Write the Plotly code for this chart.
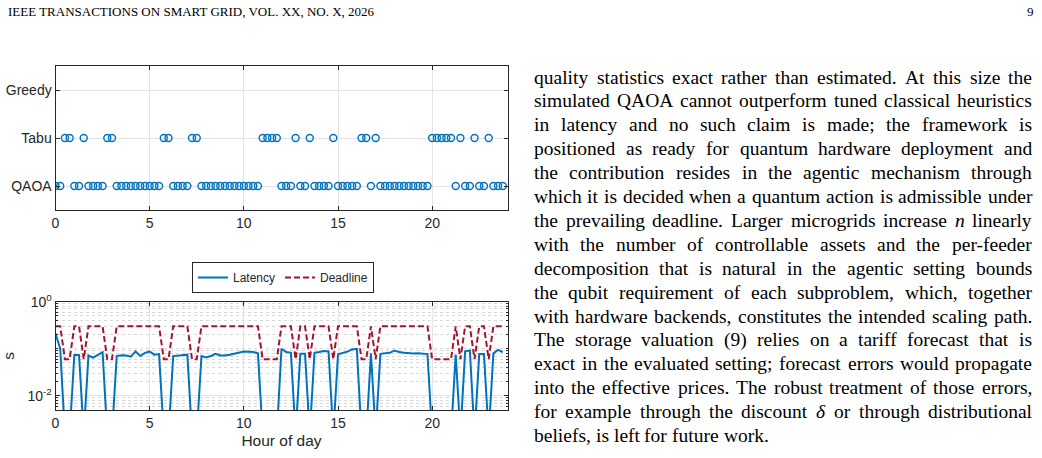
import plotly.graph_objects as go

W, H = 1042, 458

# ---------------- data ----------------
HOURS = [i * 0.25 for i in range(96)]

SOLVER_LEVELS = ["QAOA", "Tabu", "Greedy"]
SOLVER = (["QAOA"] * 2 + ["Tabu"] * 2 + ["QAOA"] * 2 + ["Tabu"] + ["QAOA"] * 4 + ["Tabu"] * 2
          + ["QAOA"] * 10 + ["Tabu"] * 2 + ["QAOA"] * 4 + ["Tabu"] * 2 + ["QAOA"] * 13
          + ["Tabu"] * 4 + ["QAOA"] * 3 + ["Tabu"] + ["QAOA"] * 2 + ["Tabu"] + ["QAOA"] * 4
          + ["Tabu"] + ["QAOA"] * 5 + ["Tabu"] * 2 + ["QAOA"] + ["Tabu"] + ["QAOA"] * 11
          + ["Tabu"] * 5 + ["QAOA"] + ["Tabu"] + ["QAOA"] * 2 + ["Tabu"] + ["QAOA"] * 2
          + ["Tabu"] + ["QAOA"] * 3)

LATENCY = [
    0.21, 0.10, 0.0015, 0.0015, 0.074, 0.074, 0.0015, 0.072,
    0.065, 0.075, 0.085, 0.0015, 0.0015, 0.070, 0.073, 0.072,
    0.068, 0.088, 0.070, 0.082, 0.087, 0.075, 0.077, 0.0015,
    0.0015, 0.070, 0.072, 0.074, 0.075, 0.0015, 0.0015, 0.070,
    0.065, 0.070, 0.078, 0.072, 0.072, 0.075, 0.078, 0.083,
    0.087, 0.086, 0.085, 0.080, 0.0015, 0.0015, 0.0015, 0.0015,
    0.100, 0.085, 0.082, 0.0015, 0.078, 0.078, 0.0015, 0.082,
    0.085, 0.090, 0.088, 0.0015, 0.076, 0.080, 0.087, 0.097,
    0.100, 0.0015, 0.0015, 0.080, 0.0015, 0.078, 0.080, 0.082,
    0.092, 0.085, 0.082, 0.080, 0.079, 0.080, 0.079, 0.077,
    0.0015, 0.0015, 0.0015, 0.0015, 0.0015, 0.075, 0.0015, 0.088,
    0.092, 0.0015, 0.077, 0.077, 0.0015, 0.080, 0.095, 0.085,
]

DEADLINE = [
    0.3, 0.3, 0.06, 0.06, 0.3, 0.3, 0.06, 0.3,
    0.3, 0.3, 0.3, 0.06, 0.06, 0.3, 0.3, 0.3,
    0.3, 0.3, 0.3, 0.3, 0.3, 0.3, 0.3, 0.06,
    0.06, 0.3, 0.3, 0.3, 0.3, 0.06, 0.06, 0.3,
    0.3, 0.3, 0.3, 0.3, 0.3, 0.3, 0.3, 0.3,
    0.3, 0.3, 0.3, 0.3, 0.06, 0.06, 0.06, 0.06,
    0.3, 0.3, 0.3, 0.06, 0.3, 0.3, 0.06, 0.3,
    0.3, 0.3, 0.3, 0.06, 0.3, 0.3, 0.3, 0.3,
    0.3, 0.06, 0.06, 0.3, 0.06, 0.3, 0.3, 0.3,
    0.3, 0.3, 0.3, 0.3, 0.3, 0.3, 0.3, 0.3,
    0.06, 0.06, 0.06, 0.06, 0.06, 0.3, 0.06, 0.3,
    0.3, 0.06, 0.3, 0.3, 0.06, 0.3, 0.3, 0.3,
]

X_TICKS = [0, 5, 10, 15, 20]
Y2_TICKS = [0.01, 1]
Y2_TICKTEXT = ["10<sup>-2</sup>", "10<sup>0</sup>"]
Y2_MINOR = [k * 10.0 ** e for e in (-3, -2, -1) for k in range(1, 10)
            if 0.005 < k * 10.0 ** e < 1 and abs(k * 10.0 ** e - 0.01) > 1e-9]

HEADER = "IEEE TRANSACTIONS ON SMART GRID, VOL. XX, NO. X, 2026"
PAGE_NO = "9"
BODY_LINES = [
    "quality statistics exact rather than estimated. At this size the",
    "simulated QAOA cannot outperform tuned classical heuristics",
    "in latency and no such claim is made; the framework is",
    "positioned as ready for quantum hardware deployment and",
    "the contribution resides in the agentic mechanism through",
    "which it is decided when a quantum action is admissible under",
    "the prevailing deadline. Larger microgrids increase *n* linearly",
    "with the number of controllable assets and the per-feeder",
    "decomposition that is natural in the agentic setting bounds",
    "the qubit requirement of each subproblem, which, together",
    "with hardware backends, constitutes the intended scaling path.",
    "The storage valuation (9) relies on a tariff forecast that is",
    "exact in the evaluated setting; forecast errors would propagate",
    "into the effective prices. The robust treatment of those errors,",
    "for example through the discount *δ* or through distributional",
    "beliefs, is left for future work.",
]

# ---------------- style ----------------
BLUE = "#0072BD"
RED = "#A2142F"
AX = "#262626"
GRID = "#e3e3e3"
SANS = "Liberation Sans, Arial, sans-serif"
SERIF = "Liberation Serif, Times New Roman, serif"

def px(x):
    return x / W

def py(y):
    return 1 - y / H

X_DOM = [px(55.5), px(507.5)]
Y_TOP = [py(210), py(66)]
Y_BOT = [py(410), py(301.7)]

fig = go.Figure()
level_pos = {name: i + 1 for i, name in enumerate(SOLVER_LEVELS)}
fig.add_trace(go.Scatter(
    x=HOURS, y=[level_pos[s] for s in SOLVER], mode="markers",
    marker=dict(symbol="circle-open", size=7, color=BLUE, line=dict(width=1.4, color=BLUE)),
    xaxis="x", yaxis="y", showlegend=False, hoverinfo="skip"))
fig.add_trace(go.Scatter(
    x=HOURS, y=LATENCY, mode="lines", name="Latency",
    line=dict(color=BLUE, width=2), xaxis="x2", yaxis="y2"))
fig.add_trace(go.Scatter(
    x=HOURS, y=DEADLINE, mode="lines", name="Deadline",
    line=dict(color=RED, width=2, dash="6px,3px"), xaxis="x2", yaxis="y2"))

axis_common = dict(
    showline=True, linecolor=AX, linewidth=1, mirror="ticks",
    ticks="inside", ticklen=4, tickcolor=AX, tickwidth=1,
    showgrid=True, gridcolor=GRID, gridwidth=1, zeroline=False, automargin=False,
    tickfont=dict(family=SANS, size=14, color=AX))

fig.update_layout(
    width=W, height=H, autosize=False,
    margin=dict(l=0, r=0, t=0, b=0, pad=0),
    paper_bgcolor="white", plot_bgcolor="white",
    xaxis=dict(domain=X_DOM, range=[0, 24], tickvals=X_TICKS, anchor="y", **axis_common),
    yaxis=dict(domain=Y_TOP, range=[0.5, 3.5], tickvals=[1, 2, 3], ticktext=SOLVER_LEVELS,
               anchor="x", **axis_common),
    xaxis2=dict(domain=X_DOM, range=[0, 24], tickvals=X_TICKS, anchor="y2",
                title=dict(text="Hour of day", font=dict(family=SANS, size=15.5, color=AX), standoff=5),
                **axis_common),
    yaxis2=dict(domain=Y_BOT, type="log", range=[-2.301, 0], tickvals=Y2_TICKS, ticktext=Y2_TICKTEXT,
                anchor="x2",
                title=dict(text="s", font=dict(family=SANS, size=15.5, color=AX), standoff=8),
                minor=dict(tickmode="array", tickvals=Y2_MINOR, ticks="inside", ticklen=2,
                           tickcolor=AX, showgrid=True, gridcolor="#d8d8d8", griddash="dot"),
                **axis_common),
    legend=dict(orientation="h", x=px(283), xanchor="center", y=py(262), yanchor="top",
                bordercolor=AX, borderwidth=1, bgcolor="white",
                font=dict(family=SANS, size=12, color=AX), itemwidth=30,
                tracegroupgap=0),
    showlegend=True,
)

# ---------------- page text (justified by Times metrics) ----------------
TW = {' ': 250, '.': 250, ',': 250, ';': 278, ':': 278, '-': 333, '(': 333, ')': 333, 'δ': 500}
for c, w in zip("abcdefghijklmnopqrstuvwxyz",
                [444, 500, 444, 500, 444, 333, 500, 500, 278, 278, 500, 278, 778, 500, 500, 500,
                 500, 333, 389, 278, 500, 500, 722, 500, 500, 444]):
    TW[c] = w
for c, w in zip("ABCDEFGHIJKLMNOPQRSTUVWXYZ",
                [722, 667, 667, 722, 611, 556, 722, 722, 333, 389, 722, 611, 889, 722, 722, 556,
                 722, 667, 556, 611, 722, 722, 944, 722, 722, 611]):
    TW[c] = w
for c in "0123456789":
    TW[c] = 500

def text_width(s, fs):
    return sum(TW.get(c, 500) for c in s.replace("*", "")) * fs / 1000.0

annotations = []
BODY_FS = 19.5
COL_L, COL_R = 533.0, 1031.0
LINE0, PITCH = 77.0, 23.9
for i, line in enumerate(BODY_LINES):
    words = line.split(" ")
    yc = LINE0 + PITCH * i
    widths = [text_width(w, BODY_FS) for w in words]
    if i < len(BODY_LINES) - 1 and len(words) > 1:
        gap = (COL_R - COL_L - sum(widths)) / (len(words) - 1)
    else:
        gap = 0.25 * BODY_FS
    x = COL_L
    for w, wd in zip(words, widths):
        txt = w
        if "*" in w:
            txt = "<i>" + w.replace("*", "") + "</i>"
        annotations.append(dict(
            x=px(x), y=py(yc), xref="paper", yref="paper", xanchor="left", yanchor="middle",
            text=txt, showarrow=False, borderpad=0,
            font=dict(family=SERIF, size=BODY_FS, color="black")))
        x += wd + gap

annotations.append(dict(x=px(7), y=py(12), xref="paper", yref="paper", xanchor="left", yanchor="middle",
                        text=HEADER, showarrow=False, borderpad=0,
                        font=dict(family=SERIF, size=13, color="black")))
annotations.append(dict(x=px(1035), y=py(12), xref="paper", yref="paper", xanchor="right", yanchor="middle",
                        text=PAGE_NO, showarrow=False, borderpad=0,
                        font=dict(family=SERIF, size=13, color="black")))
fig.update_layout(annotations=annotations)

fig.write_html("out.html")
